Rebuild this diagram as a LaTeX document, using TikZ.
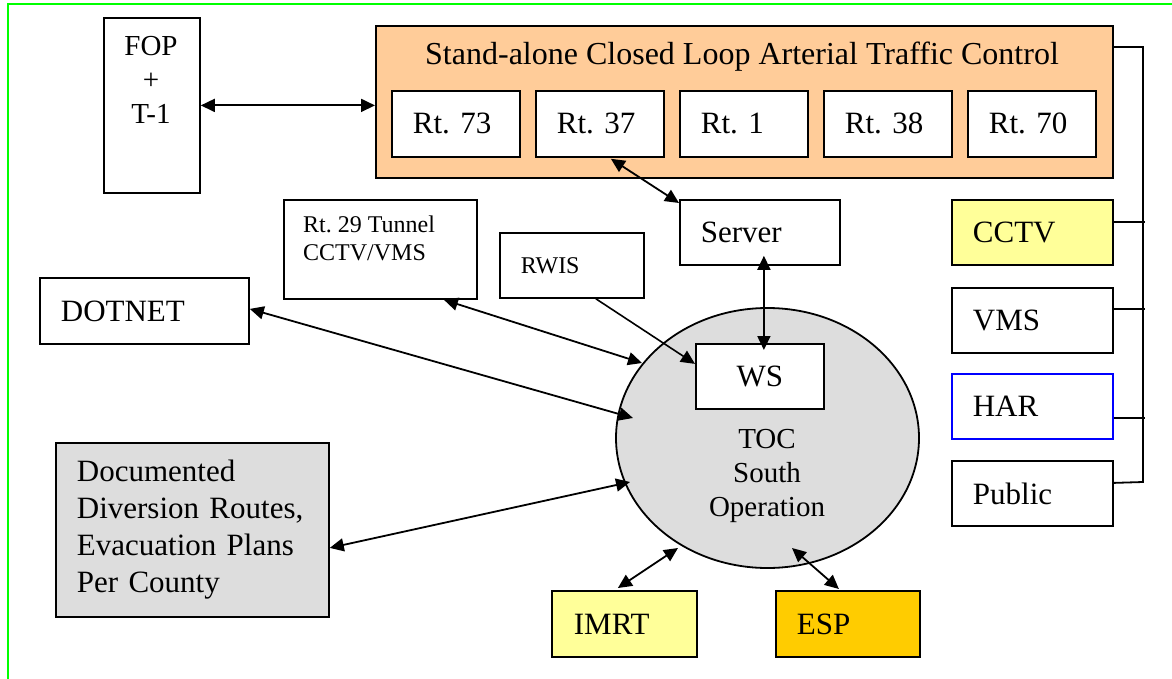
\documentclass[tikz,border=0pt]{standalone}
\usepackage{fontspec}
\setmainfont{Liberation Serif}
\frenchspacing
\usetikzlibrary{arrows.meta,shapes.geometric}
\definecolor{peach}{HTML}{FFCC99}
\definecolor{lyellow}{HTML}{FFFF99}
\definecolor{gold}{HTML}{FFCC00}
\definecolor{lgray}{HTML}{DDDDDD}
\definecolor{bgreen}{HTML}{00FF00}
\definecolor{hblue}{HTML}{0000FF}
\begin{document}
\begin{tikzpicture}[x=1pt,y=-1pt,
  box/.style={draw, line width=1.8pt, rectangle, inner ysep=0pt, inner xsep=21pt,
    align=left, anchor=north west, font=\fontsize{31}{37}\selectfont},
  rtbox/.style={box, fill=white, minimum width=128pt, minimum height=66pt, text width=86pt},
  sidebox/.style={box, minimum width=161pt, minimum height=65pt, text width=119pt},
  small/.style={font=\fontsize{24}{28}\selectfont},
  dbl/.style={line width=1.8pt, {Triangle[length=14pt,width=13pt]}-{Triangle[length=14pt,width=13pt]}},
  sgl/.style={line width=1.6pt, -{Triangle[length=14pt,width=13pt]}},
  bus/.style={line width=1.8pt}]
\clip (0,0) rectangle (1172,679);
% frame
\draw[bgreen, line width=2pt] (7.5,700) -- (7.5,4) -- (1190,4);
% FOP
\node[box, minimum width=96pt, minimum height=175pt, inner sep=0pt] (fop) at (103,17) {};
\node[anchor=north, inner sep=0pt, align=center, font=\fontsize{29}{34}\selectfont] (foptext) at (151,36) {FOP\\+\\T-1};
% orange group
\node[box, fill=peach, minimum width=737pt, minimum height=152pt, inner sep=0pt] (orange) at (375,25) {};
\node[anchor=base west, inner sep=0pt, font=\fontsize{32}{37}\selectfont] (title) at (425,65) {Stand-alone Closed Loop Arterial Traffic Control};
\node[rtbox] (rt73) at (391,90) {Rt. 73};
\node[rtbox] (rt37) at (535,90) {Rt. 37};
\node[rtbox] (rt1) at (679,90) {Rt. 1};
\node[rtbox] (rt38) at (823,90) {Rt. 38};
\node[rtbox] (rt70) at (967,90) {Rt. 70};
% right column
\node[sidebox, fill=lyellow] (cctv) at (951,199) {CCTV};
\node[sidebox] (vms) at (951,287) {VMS};
\node[sidebox, draw=hblue, line width=1.5pt] (har) at (951,373) {HAR};
\node[sidebox] (public) at (951,460) {Public};
% middle boxes
\node[box, minimum width=160pt, minimum height=65pt, text width=118pt] (server) at (679,199) {Server};
\node[box, minimum width=193pt, minimum height=99pt, inner sep=0pt] (rt29) at (283,199) {};
\node[anchor=north west, inner sep=0pt, align=left, small] (rt29text) at (303,215.5) {Rt. 29 Tunnel\\CCTV/VMS};
\node[box, small, minimum width=144pt, minimum height=65pt, text width=102pt] (rwis) at (499,232) {RWIS};
\node[box, minimum width=209pt, minimum height=66pt, text width=167pt] (dotnet) at (39,277) {DOTNET};
\node[box, fill=lgray, minimum width=273pt, minimum height=174pt, text width=231pt] (doc) at (55,442) {Documented\\Diversion Routes,\\Evacuation Plans\\Per County};
% TOC ellipse
\node[ellipse, draw, line width=1.8pt, fill=lgray, minimum width=303pt, minimum height=260pt, inner sep=0pt] (toc) at (767.5,438) {};
\node[anchor=north, inner sep=0pt, align=center, font=\fontsize{29}{34}\selectfont] (toctext) at (767,429) {TOC\\South\\Operation};
\node[box, fill=white, minimum width=128pt, minimum height=65pt, inner sep=0pt, align=center] (ws) at (695,343) {WS};
% bottom boxes
\node[box, fill=lyellow, minimum width=145pt, minimum height=66pt, text width=101pt, inner xsep=22pt] (imrt) at (551,590) {IMRT};
\node[box, fill=gold, minimum width=144pt, minimum height=66pt, text width=102pt] (esp) at (775,590) {ESP};
% connectors
\draw[dbl] (fop.east) -- (fop.east -| orange.west);
\draw[dbl] ([xshift=11pt,yshift=-1pt]rt37.south) -- ([yshift=-4pt]server.north west);
\draw[dbl] ([xshift=4pt,yshift=10pt]server.south) -- ([xshift=4pt,yshift=-7pt]ws.north);
\draw[sgl] ([xshift=24pt]rwis.south) -- ([yshift=12.5pt]ws.west);
\draw[dbl] ([xshift=63.5pt]rt29.south) -- ([xshift=-125.5pt,yshift=75pt]toc.center);
\draw[dbl] ([yshift=2pt]dotnet.east) -- ([xshift=-134.5pt,yshift=20pt]toc.center);
\draw[dbl] ([yshift=-18pt]doc.east) -- ([xshift=-137.5pt,yshift=-44pt]toc.center);
\draw[dbl] ([xshift=-6.5pt,yshift=2pt]imrt.north) -- ([xshift=-89.5pt,yshift=-110pt]toc.center);
\draw[dbl] ([xshift=-9pt,yshift=1pt]esp.north) -- ([xshift=24.5pt,yshift=-110pt]toc.center);
% bus on right
\coordinate (busT) at (1143,47);
\coordinate (busB) at (1143,482);
\draw[bus] (busT -| orange.east) -- (busT) -- (busB) -- ([yshift=10.5pt]public.east);
\draw[bus] ([yshift=10.5pt]cctv.east) -- ++(31,0);
\draw[bus] ([yshift=11.5pt]vms.east) -- ++(31,0);
\draw[bus] ([yshift=-11.5pt]har.east) -- ++(31,0);
\end{tikzpicture}
\end{document}
